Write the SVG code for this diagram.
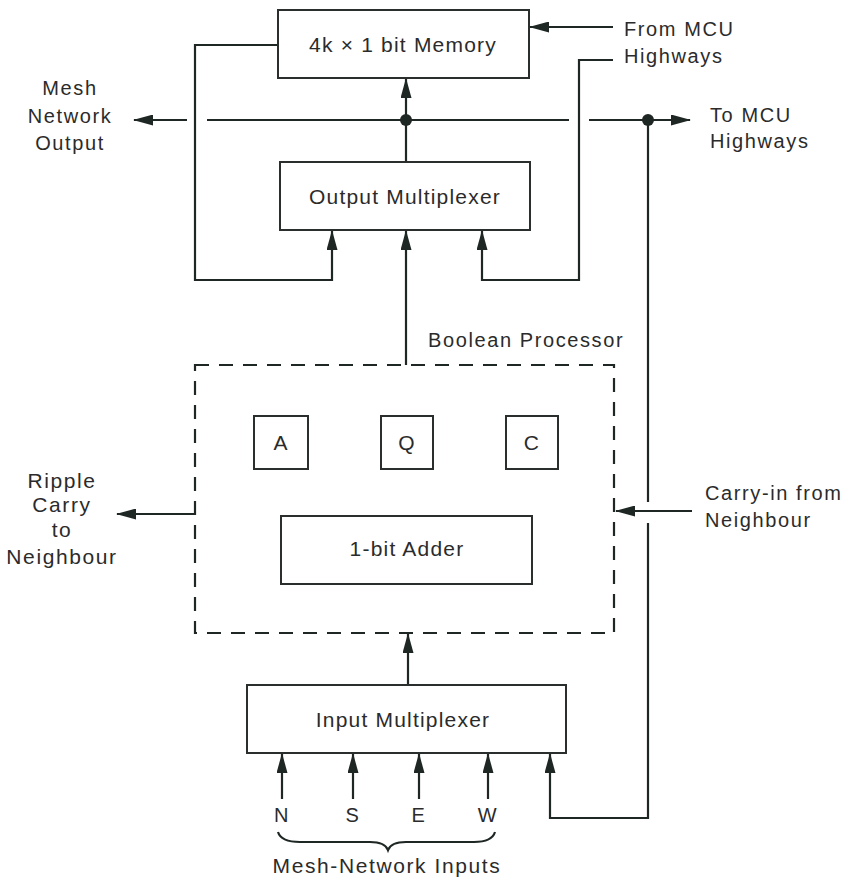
<svg xmlns="http://www.w3.org/2000/svg" width="852" height="885" viewBox="0 0 852 885">
<style>
.box{fill:#fff;stroke:#2a2f2d;stroke-width:2}
.dash{fill:none;stroke:#1e2724;stroke-width:2.2;stroke-dasharray:14 10}
.ln{fill:none;stroke:#1e2724;stroke-width:2.2}
.arr{fill:none;stroke:#1e2724;stroke-width:2.2;marker-end:url(#ah)}
.t{font-family:"Liberation Sans",Arial,sans-serif;font-size:21px;letter-spacing:1.2px;fill:#2b2b2b;text-anchor:middle}
.l{font-family:"Liberation Sans",Arial,sans-serif;font-size:20px;letter-spacing:1.6px;fill:#2b2b2b}
.c{text-anchor:middle}
.dot{fill:#1e2724}
</style>
<defs>
<marker id="ah" markerUnits="userSpaceOnUse" viewBox="0 0 20 11" refX="19" refY="5.5" markerWidth="20" markerHeight="11" orient="auto">
<path d="M0,0 L20,5.5 L0,11 z" fill="#1e2724"/>
</marker>
</defs>

<g id="connectors">
<!-- left loop memory -> output mux -->
<polyline class="arr" points="278,45 195,45 195,280 332,280 332,231"/>
<!-- mux -> memory -->
<line class="arr" x1="406" y1="162" x2="406" y2="79"/>
<!-- horizontal bus -->
<line class="arr" x1="187" y1="120" x2="134" y2="120"/>
<line class="ln" x1="207" y1="120" x2="569" y2="120"/>
<line class="arr" x1="589" y1="120" x2="690" y2="120"/>
<circle class="dot" cx="406" cy="120" r="6"/>
<circle class="dot" cx="648" cy="120" r="6"/>
<!-- from MCU -->
<line class="arr" x1="613" y1="27" x2="530" y2="27"/>
<polyline class="arr" points="613,60 579,60 579,280 482,280 482,231"/>
<!-- processor -> output mux -->
<line class="arr" x1="406" y1="365" x2="406" y2="231"/>
<!-- carry loop -->
<line class="ln" x1="648" y1="120" x2="648" y2="502"/>
<polyline class="arr" points="648,523 648,818 550,818 550,754"/>
<line class="arr" x1="692" y1="511" x2="616" y2="511"/>
<!-- ripple carry out -->
<line class="arr" x1="195" y1="514" x2="117" y2="514"/>
<!-- input mux -> processor -->
<line class="arr" x1="408" y1="685" x2="408" y2="634"/>
<!-- NSEW inputs -->
<line class="arr" x1="282" y1="799" x2="282" y2="754"/>
<line class="arr" x1="353" y1="799" x2="353" y2="754"/>
<line class="arr" x1="419" y1="799" x2="419" y2="754"/>
<line class="arr" x1="488" y1="799" x2="488" y2="754"/>
<!-- brace -->
<path class="ln" stroke-width="1.8" d="M278,832 Q281,842 300,842 L370,842 Q385,842 388,850 Q391,842 406,842 L474,842 Q492,842 495,832"/>
</g>

<g id="memory">
<rect class="box" x="278" y="10" width="251" height="68"/>
<text class="t" x="403" y="52">4k × 1 bit Memory</text>
</g>

<g id="output-mux">
<rect class="box" x="280" y="162" width="250" height="68"/>
<text class="t" x="405" y="204">Output Multiplexer</text>
</g>

<g id="boolean-processor">
<rect class="dash" x="195" y="365" width="419" height="268"/>
<text class="l" x="428" y="347">Boolean Processor</text>
</g>

<g id="reg-a">
<rect class="box" x="254" y="416" width="54" height="53"/>
<text class="t" x="281" y="450">A</text>
</g>
<g id="reg-q">
<rect class="box" x="381" y="416" width="52" height="53"/>
<text class="t" x="407" y="450">Q</text>
</g>
<g id="reg-c">
<rect class="box" x="506" y="416" width="52" height="53"/>
<text class="t" x="532" y="450">C</text>
</g>

<g id="adder">
<rect class="box" x="281" y="516" width="251" height="68"/>
<text class="t" x="407" y="556">1-bit Adder</text>
</g>

<g id="input-mux">
<rect class="box" x="247" y="685" width="319" height="68"/>
<text class="t" x="403" y="727">Input Multiplexer</text>
</g>

<g id="labels">
<text class="l c" x="70" y="95">Mesh</text>
<text class="l c" x="70" y="123">Network</text>
<text class="l c" x="70" y="150">Output</text>
<text class="l" x="624" y="36">From MCU</text>
<text class="l" x="624" y="63">Highways</text>
<text class="l" x="710" y="122">To MCU</text>
<text class="l" x="710" y="148">Highways</text>
<text class="l c" x="62" y="488" style="font-size:21px">Ripple</text>
<text class="l c" x="62" y="512" style="font-size:21px">Carry</text>
<text class="l c" x="62" y="537" style="font-size:21px">to</text>
<text class="l c" x="62" y="564" style="font-size:21px">Neighbour</text>
<text class="l" x="705" y="500">Carry-in from</text>
<text class="l" x="705" y="527">Neighbour</text>
<text class="l c" x="282" y="822">N</text>
<text class="l c" x="353" y="822">S</text>
<text class="l c" x="419" y="822">E</text>
<text class="l c" x="488" y="822">W</text>
<text class="l c" x="387" y="873" style="font-size:21px">Mesh-Network Inputs</text>
</g>
</svg>
